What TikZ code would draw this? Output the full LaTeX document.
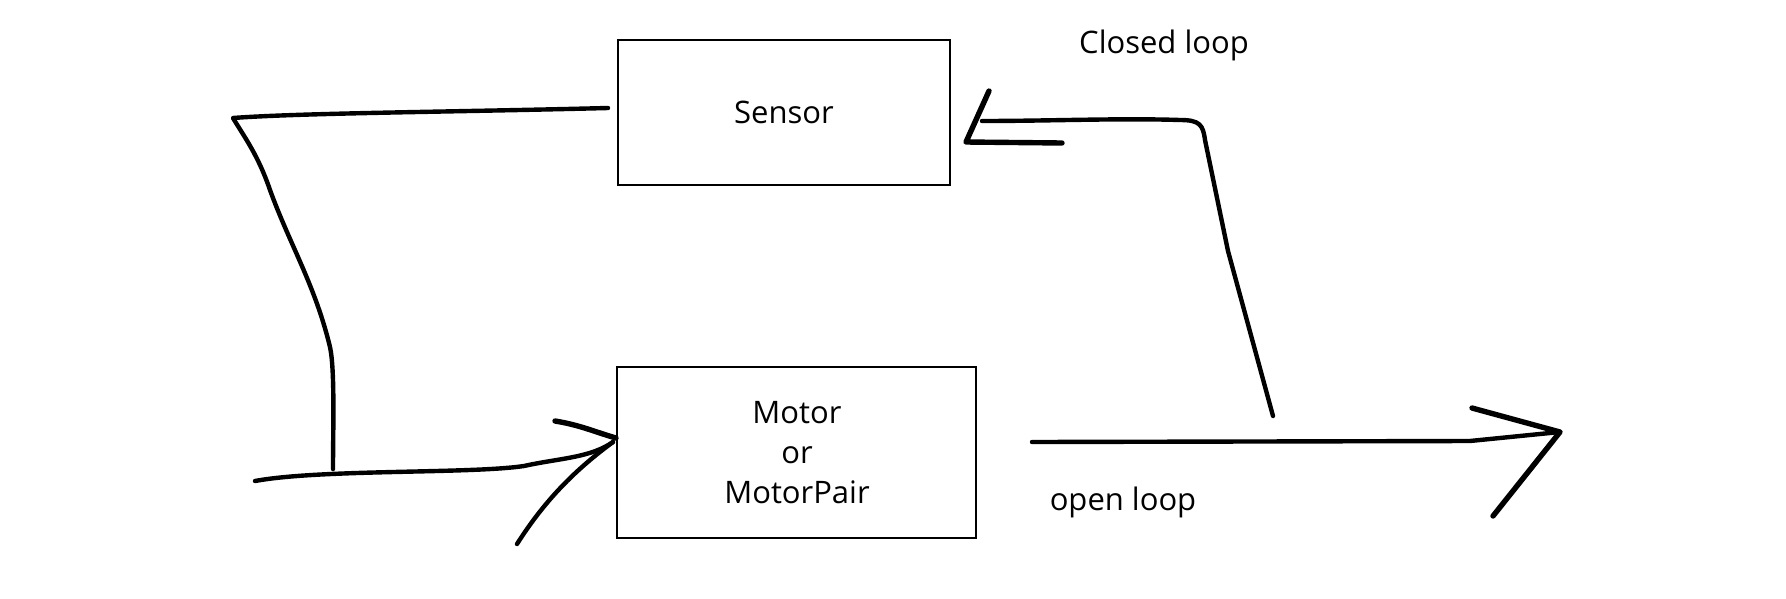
\documentclass[tikz,border=0pt]{standalone}
\usepackage{fontspec}
\setmainfont{Open Sans}
\begin{document}
\begin{tikzpicture}[x=1pt,y=-1pt,
  box/.style={draw=black,line width=2pt,inner sep=0pt},
  conn/.style={draw=black,line width=4.4pt,line cap=round,line join=round},
  barb/.style={draw=black,line width=5.4pt,line cap=round,line join=round},
  lbl/.style={font=\fontsize{31}{40}\selectfont,align=center,inner sep=0pt}]
\useasboundingbox (0,0) rectangle (1786,598);
\fill[white] (0,0) rectangle (1786,598);
% boxes
\node[box,minimum width=332pt,minimum height=145pt] (sensor) at (784,112.5) {};
\node[lbl] (sensortxt) at (784,112) {Sensor};
\node[box,minimum width=359pt,minimum height=171pt] (motor) at (796.5,452.5) {};
\node[lbl] (motortxt) at (797,453) {Motor\\or\\MotorPair};
\node[lbl] (closed) at (1164,45) {Closed loop};
\node[lbl] (open) at (1123,502) {open loop};
% coordinates
\coordinate (s1) at (608,108);
\coordinate (c1) at (233,118);
\coordinate (c2) at (330,347);
\coordinate (c3) at (333,469);
\coordinate (in1) at (255,481);
\coordinate (tip1) at (613,442);
\coordinate (b1) at (555,421);
\coordinate (b2) at (517,544);
\coordinate (r1) at (1273,416);
\coordinate (r2) at (1228,251);
\coordinate (r3) at (1205,140);
\coordinate (r5) at (982,121);
\coordinate (tip2) at (966,142);
\coordinate (b3) at (989,91);
\coordinate (b4) at (1062,143);
\coordinate (o1) at (1032,442);
\coordinate (tip3) at (1560,432);
\coordinate (b5) at (1472,408);
\coordinate (b6) at (1493,516);
% left loop
\draw[conn] (s1) .. controls (450,112) and (300,113) .. (c1)
  .. controls (245,138) and (258,155) .. (270,190)
  .. controls (290,245) and (315,285) .. (c2)
  .. controls (335,370) and (333,430) .. (c3);
\draw[conn] (in1) .. controls (320,469) and (470,474) .. (524,466)
  .. controls (560,458) and (590,458) .. (tip1);
\draw[barb] (b1) .. controls (580,425) and (595,432) .. (616,438);
\draw[conn] (b2) .. controls (545,500) and (575,470) .. (tip1);
% closed loop
\draw[conn] (r1) -- (r2) -- (r3) .. controls (1203,125) and (1200,120) .. (1180,120)
  .. controls (1120,118) and (1050,121) .. (r5);
\draw[barb] (b3) -- (tip2) -- (b4);
% open loop
\draw[conn] (o1) -- (1470,441) -- (tip3);
\draw[barb] (b5) -- (tip3) -- (b6);
\end{tikzpicture}
\end{document}
